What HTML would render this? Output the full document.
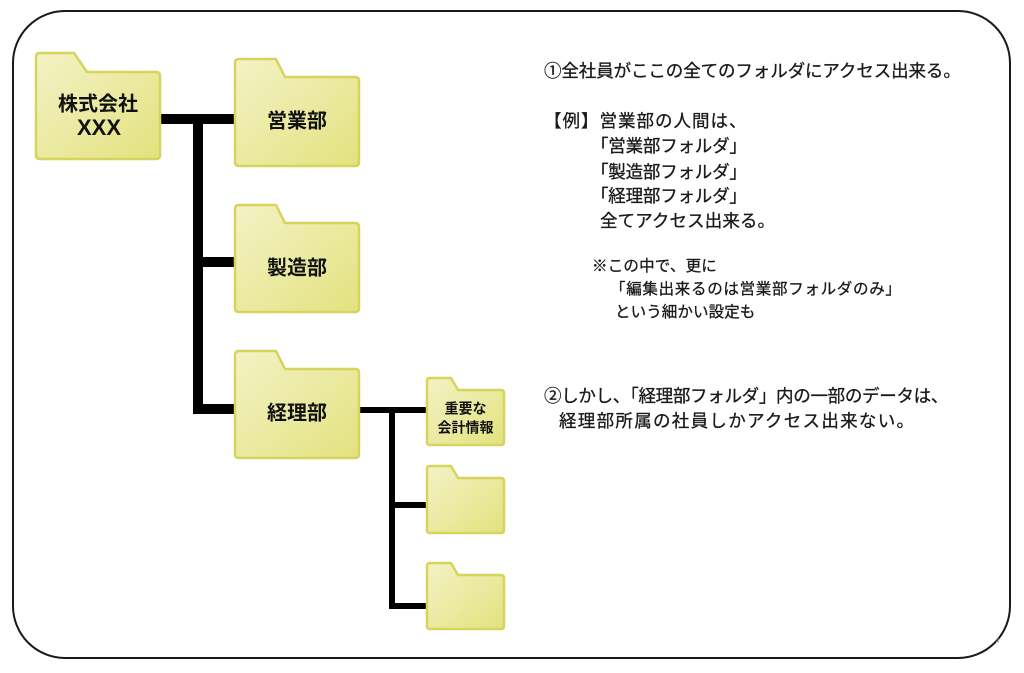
<!DOCTYPE html>
<html><head><meta charset="utf-8">
<style>
html,body{margin:0;padding:0;background:#fff;}
#wrap{position:relative;width:1024px;height:673px;overflow:hidden;background:#fff;}
svg{position:absolute;left:0;top:0;}
.t{position:absolute;white-space:nowrap;font-family:"Liberation Sans","Noto Sans CJK JP",sans-serif;color:#1a1a1a;-webkit-text-stroke:0.3px #1a1a1a;}
.m{font-size:17.5px;line-height:24px;}
.n{font-size:15.5px;line-height:22px;}
</style></head>
<body><div id="wrap">
<svg width="1024" height="673" viewBox="0 0 1024 673">
<defs>
<linearGradient id="g" x1="0" y1="0" x2="1" y2="1">
<stop offset="0" stop-color="#f3f2c6"/>
<stop offset="1" stop-color="#e3e27e"/>
</linearGradient>
</defs>
<rect x="13" y="11" width="997" height="647" rx="52" ry="52" fill="none" stroke="#1a1a1a" stroke-width="2"/>
<text x="996" y="643" font-size="6" fill="#999" font-family="Liberation Sans, sans-serif">4</text>

<g fill="#000">
<rect x="158" y="114" width="79" height="10"/>
<rect x="193" y="114" width="10" height="300"/>
<rect x="193" y="257" width="43" height="10"/>
<rect x="193" y="404" width="43" height="10"/>
<rect x="356" y="407" width="73" height="6"/>
<rect x="389" y="407" width="6" height="202"/>
<rect x="389" y="502" width="40" height="6"/>
<rect x="389" y="603" width="40" height="6"/>
</g>

<g fill="url(#g)" stroke="#d6d45c" stroke-width="2.5" stroke-linejoin="round">
<path d="M36,57 Q36,53 40,53 H74 L87,72 H156 Q160,72 160,76 V155 Q160,159 156,159 H40 Q36,159 36,155 Z"/>
<path d="M235,63 Q235,59 239,59 H276 L285,77 H355 Q359,77 359,81 V162 Q359,166 355,166 H239 Q235,166 235,162 Z"/>
<path d="M235,209 Q235,205 239,205 H276 L285,223 H355 Q359,223 359,227 V308 Q359,312 355,312 H239 Q235,312 235,308 Z"/>
<path d="M235,355 Q235,351 239,351 H276 L285,369 H355 Q359,369 359,373 V454 Q359,458 355,458 H239 Q235,458 235,454 Z"/>
<path d="M427,381 Q427,378 430,378 H451 L458,390 H501 Q504,390 504,393 V442 Q504,445 501,445 H430 Q427,445 427,442 Z"/>
<path d="M427,469 Q427,466 430,466 H451 L458,478 H501 Q504,478 504,481 V530 Q504,533 501,533 H430 Q427,533 427,530 Z"/>
<path d="M427,566 Q427,563 430,563 H451 L458,575 H501 Q504,575 504,578 V626 Q504,629 501,629 H430 Q427,629 427,626 Z"/>
</g>

<g font-family="Liberation Sans, Noto Sans CJK JP, sans-serif" font-weight="bold" fill="#111" text-anchor="middle">
<text x="98" y="110.5" font-size="20">株式会社</text>
<text x="99" y="135" font-size="22">XXX</text>
<text x="297" y="127.5" font-size="20">営業部</text>
<text x="297" y="274.5" font-size="20">製造部</text>
<text x="297" y="419.5" font-size="20">経理部</text>
<text x="465.5" y="413.3" font-size="14">重要な</text>
<text x="465.5" y="432.3" font-size="14">会計情報</text>
</g>
</svg>

<div class="t m" style="left:544px;top:59px;letter-spacing:-0.1px;">①全社員がここの全てのフォルダにアクセス出来る。</div>
<div class="t m" style="left:544px;top:109px;letter-spacing:1px;">【例】営業部の人間は、</div>
<div class="t m" style="left:591px;top:134px;letter-spacing:-0.2px;">「営業部フォルダ」</div>
<div class="t m" style="left:591px;top:160px;letter-spacing:-0.2px;">「製造部フォルダ」</div>
<div class="t m" style="left:591px;top:184px;letter-spacing:-0.2px;">「経理部フォルダ」</div>
<div class="t m" style="left:600px;top:209px;letter-spacing:0.1px;">全てアクセス出来る。</div>

<div class="t n" style="left:592px;top:256px;letter-spacing:0.2px;">※この中で、更に</div>
<div class="t n" style="left:610px;top:279px;letter-spacing:0.7px;">「編集出来るのは営業部フォルダのみ」</div>
<div class="t n" style="left:615px;top:302px;letter-spacing:0.1px;">という細かい設定も</div>

<div class="t m" style="left:544px;top:384px;letter-spacing:-0.3px;">②しかし、「経理部フォルダ」内の一部のデータは、</div>
<div class="t m" style="left:559px;top:409px;letter-spacing:1.3px;">経理部所属の社員しかアクセス出来ない。</div>
</div></body></html>
